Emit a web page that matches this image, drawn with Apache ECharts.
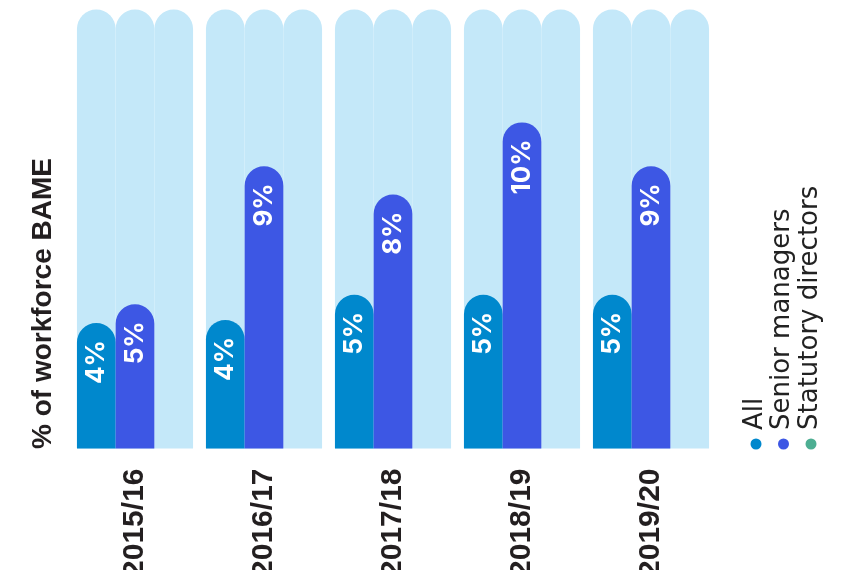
<!DOCTYPE html>
<html>
<head>
<meta charset="utf-8">
<script src="https://cdn.jsdelivr.net/npm/echarts@6/dist/echarts.min.js"></script>
<style>
  html, body { margin: 0; padding: 0; background: #ffffff; }
  #chart { width: 845px; height: 570px; }
</style>
</head>
<body>
<div id="chart"></div>
<script>
// BAME share of the workforce by year (%)
const years = ['2015/16', '2016/17', '2017/18', '2018/19', '2019/20'];
const seriesNames = ['All', 'Senior managers', 'Statutory directors'];
const allStaff = [4.0, 4.1, 4.9, 4.9, 4.9];
const seniorManagers = [4.6, 9.0, 8.1, 10.4, 9.0];
const statutoryDirectors = [0, 0, 0, 0, 0];
const seriesColors = ['#0088cd', '#3d57e4', '#4dae92'];
const axisTitle = '% of workforce BAME';
const yMax = 14;

const chart = echarts.init(document.getElementById('chart'), null, { renderer: 'canvas' });

const valueLabel = {
  show: true,
  position: 'insideTop',
  rotate: 90,
  align: 'right',
  verticalAlign: 'middle',
  distance: 17,
  color: '#ffffff',
  fontFamily: 'Inter',
  fontWeight: 'bold',
  fontSize: 26,
  formatter: p => Math.round(p.value) + '%'
};

function barSeries(name, data, color, withLabel) {
  return {
    name: name,
    type: 'bar',
    data: data,
    barGap: '0%',
    barCategoryGap: '10%',
    showBackground: true,
    backgroundStyle: { color: '#c4e8f9', borderRadius: [20, 20, 0, 0] },
    itemStyle: { color: color, borderRadius: [20, 20, 0, 0] },
    label: withLabel ? valueLabel : { show: false },
    emphasis: { disabled: true }
  };
}

// rotated legend: dot underneath, name reading upwards
const legendItems = [];
seriesNames.forEach((name, i) => {
  const cx = 756 + i * 27.5;
  legendItems.push({
    type: 'circle',
    shape: { cx: cx, cy: 444, r: 5.5 },
    style: { fill: seriesColors[i] }
  });
  legendItems.push({
    type: 'text',
    x: cx - 1,
    y: 430,
    rotation: Math.PI / 2,
    style: {
      text: name,
      fill: '#222222',
      font: '26px "DejaVu Sans"',
      textAlign: 'left',
      textVerticalAlign: 'middle',
      align: 'left',
      verticalAlign: 'middle'
    }
  });
});

chart.setOption({
  animation: false,
  grid: {
    left: 70.5, right: 129.5, top: 9.5, bottom: 121.5,
    containLabel: false,
    outerBoundsMode: 'none'
  },
  xAxis: {
    type: 'category',
    data: years,
    axisLine: { show: false },
    axisTick: { show: false },
    axisLabel: {
      rotate: 90,
      margin: 20,
      color: '#231f20',
      fontFamily: 'Liberation Sans',
      fontWeight: 'bold',
      fontSize: 30
    }
  },
  yAxis: {
    type: 'value',
    min: 0,
    max: yMax,
    show: false,
    splitLine: { show: false }
  },
  legend: { show: false, data: seriesNames },
  series: [
    barSeries(seriesNames[0], allStaff, seriesColors[0], true),
    barSeries(seriesNames[1], seniorManagers, seriesColors[1], true),
    barSeries(seriesNames[2], statutoryDirectors, seriesColors[2], false)
  ],
  graphic: [
    {
      type: 'text',
      x: 43,
      y: 449,
      rotation: Math.PI / 2,
      style: {
        text: axisTitle,
        fill: '#231f20',
        font: 'bold 28px "Liberation Sans"',
        textAlign: 'left',
        textVerticalAlign: 'middle',
        align: 'left',
        verticalAlign: 'middle'
      }
    }
  ].concat(legendItems)
});
</script>
</body>
</html>
